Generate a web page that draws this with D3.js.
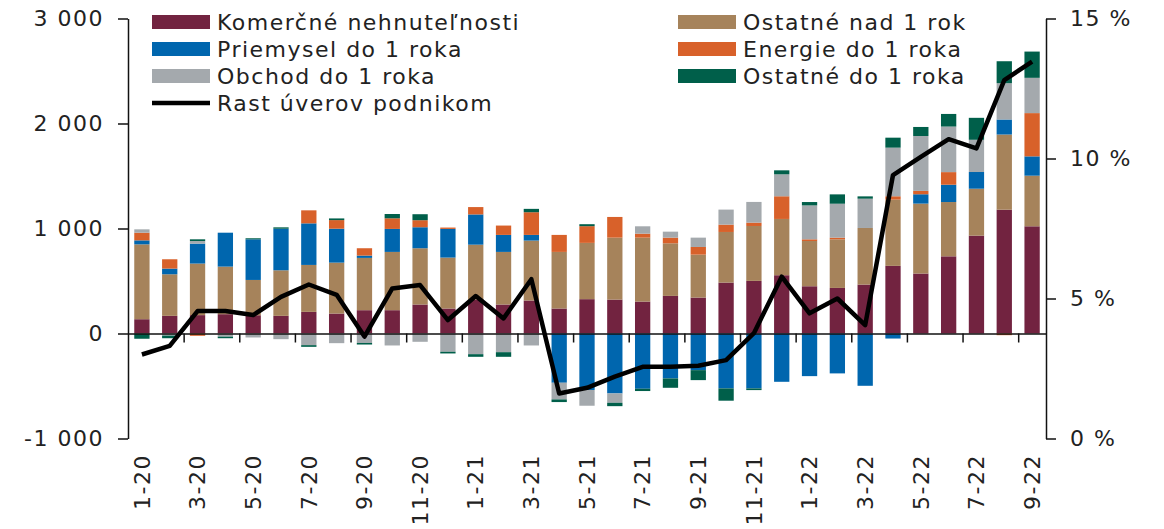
<!DOCTYPE html>
<html>
<head>
<meta charset="utf-8">
<script src="https://cdn.jsdelivr.net/npm/d3@7"></script>
<style>
  body { margin: 0; background: #fff; }
  text { font-family: "DejaVu Sans", Verdana, sans-serif; fill: #222; }
</style>
</head>
<body>
<div id="chart"></div>
<script>
// months 1-20 .. 9-22
let months = []
for (let yr = 20; yr <= 22; yr++) {
    for (let m = 1; m <= 12; m++) {
        if (yr == 22 && m > 9) break
        months.push(m + "-" + yr)
    }
}

let seriesNames = ["Komerčné nehnuteľnosti", "Ostatné nad 1 rok", "Priemysel do 1 roka",
    "Energie do 1 roka", "Obchod do 1 roka", "Ostatné do 1 roka"]
let seriesColors = ["#722340", "#A6835B", "#0066AE", "#D8612A", "#A4A9AD", "#005F4A"]
let lineName = "Rast úverov podnikom"

let komercne = [136, 168, 175, 184, 174, 168, 206, 190, 222, 222, 276, 238, 323, 276, 314, 238, 327,
    323, 304, 358, 342, 485, 501, 555, 450, 434, 466, 644, 571, 735, 932, 1179, 1021]
let ostatneNad = [713, 396, 491, 453, 336, 434, 447, 485, 498, 555, 536, 485, 523, 501, 571, 539, 536,
    590, 609, 501, 409, 482, 523, 536, 431, 463, 539, 631, 666, 517, 447, 716, 482]
let priemysel = [38, 54, 190, 323, 387, 396, 396, 323, 22, 219, 200, 273, 288, 162, 54, -469, -538,
    -571, -526, -428, -349, -523, -523, -460, -406, -380, -498, -48, 89, 165, 159, 143, 184]
let energie = [73, 89, -22, 0, 0, 0, 124, 82, 70, 101, 67, 13, 70, 89, 216, 162, 159,
    197, 38, 54, 73, 70, 32, 216, 16, 16, 0, 32, 32, 120, 0, -16, 412]
let obchod = [32, -20, 25, -30, -38, -54, -111, -92, -90, -114, -79, -174, -197, -178, -114, -159, -150,
    -89, 70, 57, 89, 143, 197, 209, 323, 323, 279, 463, 523, 434, 307, 346, 336]
let ostatneDo = [-50, -25, 16, -15, 10, 13, -16, 16, -15, 41, 57, -16, -25, -44, 32, -25, 19,
    -32, -22, -89, -95, -117, -16, 38, 32, 89, 22, 95, 86, 120, 209, 209, 250]
let rast = [3.0, 3.31, 4.55, 4.55, 4.41, 5.06, 5.5, 5.13, 3.64, 5.36, 5.48, 4.23, 5.09, 4.29, 5.69, 1.61, 1.81,
    2.21, 2.56, 2.56, 2.6, 2.8, 3.76, 5.78, 4.47, 5.0, 4.05, 9.41, 10.06, 10.69, 10.36, 12.8, 13.46]

let leftTicks = [-1000, 0, 1000, 2000, 3000]
let rightTicks = [0, 5, 10, 15]

let width = 1164, height = 529
let plot = { left: 128, right: 1046, top: 18.5, bottom: 438.5 }

let svg = d3.select("#chart").append("svg")
    .attr("width", width)
    .attr("height", height)

// table for the stack
let table = months.map((m, i) => ({
    month: m,
    s0: komercne[i], s1: ostatneNad[i], s2: priemysel[i],
    s3: energie[i], s4: obchod[i], s5: ostatneDo[i]
}))
let keys = ["s0", "s1", "s2", "s3", "s4", "s5"]
let stacked = d3.stack().keys(keys).offset(d3.stackOffsetDiverging)(table)

// scales
let x = d3.scaleBand()
    .domain(months)
    .range([plot.left, plot.right])
    .paddingInner(0.45)
    .paddingOuter(0.225)
let xi = d3.scaleLinear().domain([0, months.length]).range([plot.left, plot.right])
let y = d3.scaleLinear().domain([-1000, 3000]).range([plot.bottom, plot.top])
let y2 = d3.scaleLinear().domain([0, 15]).range([plot.bottom, plot.top])

// bars
svg.append("g").attr("class", "bars")
    .selectAll("g")
    .data(stacked)
    .join("g")
    .attr("fill", (d, i) => seriesColors[i])
    .selectAll("rect")
    .data(d => d)
    .join("rect")
    .attr("x", d => x(d.data.month))
    .attr("width", x.bandwidth())
    .attr("y", d => y(Math.max(d[0], d[1])))
    .attr("height", d => Math.abs(y(d[0]) - y(d[1])))

let fmt = v => (v < 0 ? "-" : "") + d3.format(",")(Math.abs(v)).replace(/,/g, " ")

// left axis
let gl = svg.append("g")
    .attr("transform", "translate(" + plot.left + ",0)")
    .call(d3.axisLeft(y).tickValues(leftTicks).tickSize(10).tickSizeOuter(0).tickPadding(14).tickFormat(fmt))
gl.select(".domain").attr("stroke", "#111").attr("stroke-width", 1.5)
gl.selectAll(".tick line").attr("stroke", "#111").attr("stroke-width", 1.5)

// right axis
let gr = svg.append("g")
    .attr("transform", "translate(" + plot.right + ",0)")
    .call(d3.axisRight(y2).tickValues(rightTicks).tickSize(10).tickSizeOuter(0).tickPadding(14).tickFormat(d => d + " %"))
gr.select(".domain").attr("stroke", "#111").attr("stroke-width", 1.5)
gr.selectAll(".tick line").attr("stroke", "#111").attr("stroke-width", 1.5)

svg.selectAll(".tick text")
    .style("font-size", "22px")
    .style("letter-spacing", "1.5px")
    .attr("fill", "#222")

// zero line with ticks every two months
let zeroTicks = d3.range(2, months.length, 2)
let gz = svg.append("g")
    .attr("transform", "translate(0," + y(0) + ")")
    .call(d3.axisBottom(xi).tickValues(zeroTicks).tickSize(9).tickSizeOuter(0).tickFormat(""))
gz.select(".domain").attr("stroke", "#111").attr("stroke-width", 1.5)
gz.selectAll(".tick line").attr("stroke", "#111").attr("stroke-width", 1.5)

// month labels, rotated
let gx = svg.append("g")
    .attr("transform", "translate(0,448)")
    .call(d3.axisBottom(x).tickValues(months.filter((m, i) => i % 2 == 0)).tickSize(0))
gx.select(".domain").remove()
gx.selectAll("text")
    .attr("transform", "rotate(-90)")
    .attr("x", -6)
    .attr("y", 0)
    .attr("dy", "0.35em")
    .attr("text-anchor", "end")
    .attr("fill", "#222")
    .style("font-size", "22px")
    .style("letter-spacing", "1.5px")

// line
let line = d3.line()
    .x((d, i) => x(months[i]) + x.bandwidth() / 2)
    .y(d => y2(d))
svg.append("path")
    .datum(rast)
    .attr("d", line)
    .attr("fill", "none")
    .attr("stroke", "#000")
    .attr("stroke-width", 4.5)
    .attr("stroke-linejoin", "round")

// legend
let legendItems = [
    { name: seriesNames[0], color: seriesColors[0], col: 0, row: 0 },
    { name: seriesNames[2], color: seriesColors[2], col: 0, row: 1 },
    { name: seriesNames[4], color: seriesColors[4], col: 0, row: 2 },
    { name: lineName, color: null, col: 0, row: 3 },
    { name: seriesNames[1], color: seriesColors[1], col: 1, row: 0 },
    { name: seriesNames[3], color: seriesColors[3], col: 1, row: 1 },
    { name: seriesNames[5], color: seriesColors[5], col: 1, row: 2 }
]
let legendX = [152, 678]
let legend = svg.append("g").attr("class", "legend")
legendItems.forEach(it => {
    let g = legend.append("g")
        .attr("transform", "translate(" + legendX[it.col] + "," + (22 + it.row * 27) + ")")
    if (it.color) {
        g.append("rect").attr("x", 0).attr("y", -7).attr("width", 58).attr("height", 14).attr("fill", it.color)
    } else {
        g.append("line").attr("x1", 0).attr("x2", 58).attr("y1", 0).attr("y2", 0)
            .attr("stroke", "#000").attr("stroke-width", 4.5)
    }
    g.append("text")
        .attr("x", 65)
        .attr("y", 0)
        .attr("dy", "0.35em")
        .style("font-size", "22px")
        .style("letter-spacing", "1.5px")
        .text(it.name)
})
</script>
</body>
</html>
